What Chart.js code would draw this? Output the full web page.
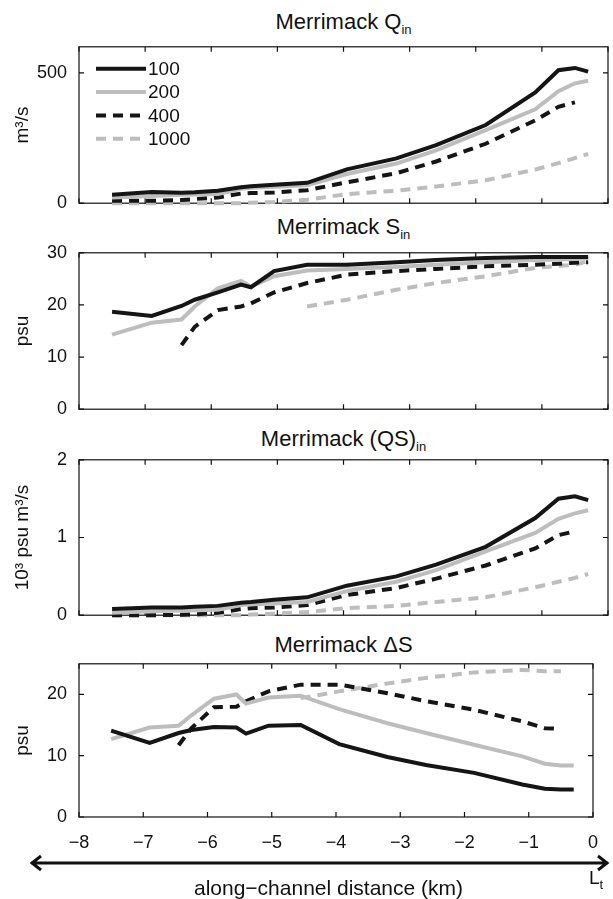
<!DOCTYPE html>
<html>
<head>
<meta charset="utf-8">
<script src="https://cdn.jsdelivr.net/npm/chart.js@4.4.1/dist/chart.umd.min.js"></script>
<style>
  body { margin: 0; background: #fff; }
  #page { position: relative; width: 613px; height: 899px; overflow: hidden; font-family: "Liberation Sans", Arial, sans-serif; color: #111; }
  canvas { position: absolute; left: 0; }
  .ttl { position: absolute; left: 79px; width: 529px; text-align: center; font-size: 22px; line-height: 24px; white-space: nowrap; }
  .ttl sub, .lt sub { font-size: 13px; vertical-align: -5px; line-height: 0; }
  .xlab { position: absolute; left: 64px; width: 529px; top: 876px; text-align: center; font-size: 21px; line-height: 24px; white-space: nowrap; }
  .lt { position: absolute; left: 589px; top: 867px; font-size: 19px; line-height: 22px; }
</style>
</head>
<body>
<div id="page">
  <div class="ttl" style="top:10px">Merrimack Q<sub>in</sub></div>
  <div class="ttl" style="top:215px">Merrimack S<sub>in</sub></div>
  <div class="ttl" style="top:427px">Merrimack (QS)<sub>in</sub></div>
  <div class="ttl" style="top:633px">Merrimack ΔS</div>
  <canvas id="qIn"></canvas>
  <canvas id="sIn"></canvas>
  <canvas id="qsIn"></canvas>
  <canvas id="dS"></canvas>
  <div class="xlab">along−channel distance (km)</div>
  <div class="lt">L<sub>t</sub></div>
</div>
<script>
// along-channel stations (km)
const distance = [-7.5, -6.9, -6.45, -6.25, -5.9, -5.55, -5.4, -5.05, -4.55, -3.95, -3.2, -2.6, -1.85, -1.1, -0.75, -0.5, -0.3];
const runs = ['100', '200', '400', '1000'];

// Merrimack Q_in (m3/s)
const qIn100 = [32, 43, 40, 42, 48, 61, 65, 71, 78, 130, 172, 223, 300, 425, 510, 519, 505];
const qIn200 = [22, 28, 32, 33, 35, 55, 59, 63, 69, 112, 152, 203, 280, 360, 430, 460, 470];
const qIn400 = [9, 9, 12, 16, 22, 37, 39, 41, 50, 80, 115, 160, 228, 318, 370, 387, null];
const qIn1000 = [0, 0, 0, 0, 0, 0, 2, 5, 13, 35, 48, 64, 88, 129, 154, 173, 189];

// Merrimack S_in (psu)
const sIn100 = [18.7, 17.9, 19.8, 21.0, 22.4, 23.9, 23.4, 26.5, 27.7, 27.7, 28.2, 28.6, 29.0, 29.2, 29.2, 29.2, 29.2];
const sIn200 = [14.3, 16.6, 17.2, 19.7, 23.2, 24.6, 23.5, 25.5, 26.6, 26.9, 27.3, 27.7, 28.2, 28.6, 28.7, 28.8, 29.0];
const sIn400 = [null, null, 12.3, 15.8, 19.0, 19.7, 20.3, 22.4, 24.2, 25.8, 26.5, 26.9, 27.4, 27.7, 27.9, 28.1, 28.2];
const sIn1000 = [null, null, null, null, null, null, null, null, 19.7, 21.0, 22.9, 24.2, 25.5, 27.1, 27.5, 27.7, 28.4];

// Merrimack (QS)_in (10^3 psu m3/s)
const qsIn100 = [0.08, 0.10, 0.10, 0.11, 0.12, 0.16, 0.17, 0.20, 0.23, 0.38, 0.50, 0.65, 0.88, 1.25, 1.50, 1.53, 1.48];
const qsIn200 = [0.03, 0.05, 0.06, 0.065, 0.07, 0.13, 0.14, 0.15, 0.17, 0.31, 0.43, 0.58, 0.82, 1.06, 1.24, 1.31, 1.35];
const qsIn400 = [0, 0, 0.005, 0.01, 0.03, 0.08, 0.09, 0.10, 0.13, 0.26, 0.35, 0.47, 0.64, 0.86, 1.03, 1.08, null];
const qsIn1000 = [0, 0, 0, 0, 0, 0, 0.01, 0.02, 0.04, 0.09, 0.12, 0.17, 0.23, 0.36, 0.43, 0.48, 0.53];

// Merrimack delta S (psu)
const dS100 = [14.1, 12.1, 13.7, 14.2, 14.7, 14.6, 13.6, 14.9, 15.0, 11.9, 9.8, 8.5, 7.2, 5.3, 4.6, 4.5, 4.5];
const dS200 = [12.7, 14.6, 14.9, 16.6, 19.3, 20.0, 18.5, 19.5, 19.8, 17.6, 15.3, 13.7, 11.8, 9.9, 8.7, 8.4, 8.4];
const dS400 = [null, null, 11.7, 14.5, 17.9, 18.0, 18.9, 20.5, 21.6, 21.6, 20.2, 18.9, 17.5, 15.6, 14.5, 14.4, null];
const dS1000 = [null, null, null, null, null, null, null, null, 19.4, 20.5, 21.8, 22.7, 23.6, 24.0, 23.8, 23.8, null];

// tick labels
const kmTicks = [-8, -7, -6, -5, -4, -3, -2, -1, 0];
const qTicks = [0, 500];
const sTicks = [0, 10, 20, 30];
const qsTicks = [0, 1, 2];
const dsTicks = [0, 10, 20];

const black = '#151515';
const grey = '#bdbdbd';
const runColor = [black, grey, black, grey];
const runDash = [[], [], [10, 7], [10, 7]];

function makeDatasets(series) {
    return series.map((vals, i) => ({
        label: runs[i],
        data: distance.map((d, j) => ({ x: d, y: vals[j] })),
        borderColor: runColor[i],
        borderDash: runDash[i],
        borderWidth: 4,
        pointRadius: 0,
        tension: 0,
        fill: false,
        clip: false,
        borderJoinStyle: 'miter',
        borderCapStyle: 'butt'
    }));
}

// MATLAB style box with inward ticks on all four sides
const matlabBox = {
    id: 'matlabBox',
    beforeDatasetsDraw(chart) {
        const { ctx, chartArea: a, scales: { x, y } } = chart;
        ctx.save();
        ctx.strokeStyle = '#111';
        ctx.lineWidth = 1.2;
        ctx.strokeRect(a.left, a.top, a.right - a.left, a.bottom - a.top);
        ctx.beginPath();
        x.ticks.forEach(t => {
            const px = x.getPixelForValue(t.value);
            ctx.moveTo(px, a.bottom); ctx.lineTo(px, a.bottom - 5);
            ctx.moveTo(px, a.top); ctx.lineTo(px, a.top + 5);
        });
        y.ticks.forEach(t => {
            const py = y.getPixelForValue(t.value);
            ctx.moveTo(a.left, py); ctx.lineTo(a.left + 5, py);
            ctx.moveTo(a.right, py); ctx.lineTo(a.right - 5, py);
        });
        ctx.stroke();
        ctx.restore();
    }
};

// legend drawn inside the top-left of the first panel
const insideLegend = {
    id: 'insideLegend',
    afterDatasetsDraw(chart) {
        const { ctx, chartArea: a } = chart;
        ctx.save();
        ctx.font = '19px "Liberation Sans", Arial, sans-serif';
        ctx.textBaseline = 'middle';
        ctx.fillStyle = '#111';
        chart.data.datasets.forEach((ds, i) => {
            const yy = a.top + 22 + i * 23.3;
            ctx.strokeStyle = ds.borderColor;
            ctx.lineWidth = 4;
            ctx.setLineDash(ds.borderDash);
            ctx.beginPath();
            ctx.moveTo(a.left + 17, yy);
            ctx.lineTo(a.left + 67, yy);
            ctx.stroke();
            ctx.setLineDash([]);
            ctx.fillText(ds.label, a.left + 69, yy + 1);
        });
        ctx.restore();
    }
};

// double-headed arrow under the last panel
const distanceArrow = {
    id: 'distanceArrow',
    afterDraw(chart) {
        const { ctx, chartArea: a } = chart;
        const yy = a.bottom + 46;
        const x0 = 31, x1 = 608;
        ctx.save();
        ctx.strokeStyle = '#111';
        ctx.lineWidth = 3;
        ctx.beginPath();
        ctx.moveTo(x0, yy); ctx.lineTo(x1, yy);
        ctx.moveTo(x0 + 10, yy - 7); ctx.lineTo(x0 + 1, yy); ctx.lineTo(x0 + 10, yy + 7);
        ctx.moveTo(x1 - 10, yy - 7); ctx.lineTo(x1 - 1, yy); ctx.lineTo(x1 - 10, yy + 7);
        ctx.stroke();
        ctx.restore();
    }
};

const fontFamily = '"Liberation Sans", Arial, sans-serif';

function buildPanel(id, plotTop, plotHeight, series, yMin, yMax, yTicks, yTitle, showX, extraPlugins) {
    const xHeight = showX ? 899 - (plotTop + plotHeight) : 3;
    const canvas = document.getElementById(id);
    canvas.width = 613;
    canvas.height = 260;

    const chart = new Chart(canvas, {
        type: 'line',
        data: { datasets: makeDatasets(series) },
        options: {
            responsive: false,
            maintainAspectRatio: false,
            animation: false,
            devicePixelRatio: 1,
            layout: { padding: { top: 12, right: 5, bottom: 0, left: 0 } },
            plugins: { legend: { display: false }, tooltip: { enabled: false } },
            scales: {
                x: {
                    type: 'linear',
                    min: -8,
                    max: 0,
                    grid: { display: false, drawTicks: false },
                    border: { display: false },
                    afterBuildTicks: s => { s.ticks = kmTicks.map(v => ({ value: v })); },
                    afterFit: s => { s.height = xHeight; },
                    ticks: {
                        display: showX,
                        padding: 15,
                        color: '#111',
                        font: { size: 18, family: fontFamily },
                        callback: v => String(v).replace('-', '\u2212')
                    }
                },
                y: {
                    min: yMin,
                    max: yMax,
                    grid: { display: false, drawTicks: false },
                    border: { display: false },
                    afterBuildTicks: s => { s.ticks = yTicks.map(v => ({ value: v })); },
                    afterFit: s => { s.width = 79; },
                    ticks: {
                        padding: 12,
                        color: '#111',
                        font: { size: 18, family: fontFamily }
                    },
                    title: {
                        display: true,
                        text: yTitle,
                        color: '#111',
                        padding: { top: 11, bottom: 0 },
                        font: { size: 19, family: fontFamily }
                    }
                }
            }
        },
        plugins: [matlabBox].concat(extraPlugins || [])
    });

    // fit the canvas so the plot box lands exactly on plotTop .. plotTop + plotHeight
    const a = chart.chartArea;
    const above = a.top;
    const below = chart.height - a.bottom;
    chart.resize(613, Math.round(above + plotHeight + below));
    canvas.style.top = Math.round(plotTop - chart.chartArea.top) + 'px';
    return chart;
}

buildPanel('qIn', 47, 156, [qIn100, qIn200, qIn400, qIn1000], 0, 600, qTicks, 'm³/s', false, [insideLegend]);
buildPanel('sIn', 253, 156, [sIn100, sIn200, sIn400, sIn1000], 0, 30, sTicks, 'psu', false);
buildPanel('qsIn', 460, 155, [qsIn100, qsIn200, qsIn400, qsIn1000], 0, 2, qsTicks, '10³ psu m³/s', false);
buildPanel('dS', 664, 153, [dS100, dS200, dS400, dS1000], 0, 25, dsTicks, 'psu', true, [distanceArrow]);
</script>
</body>
</html>
